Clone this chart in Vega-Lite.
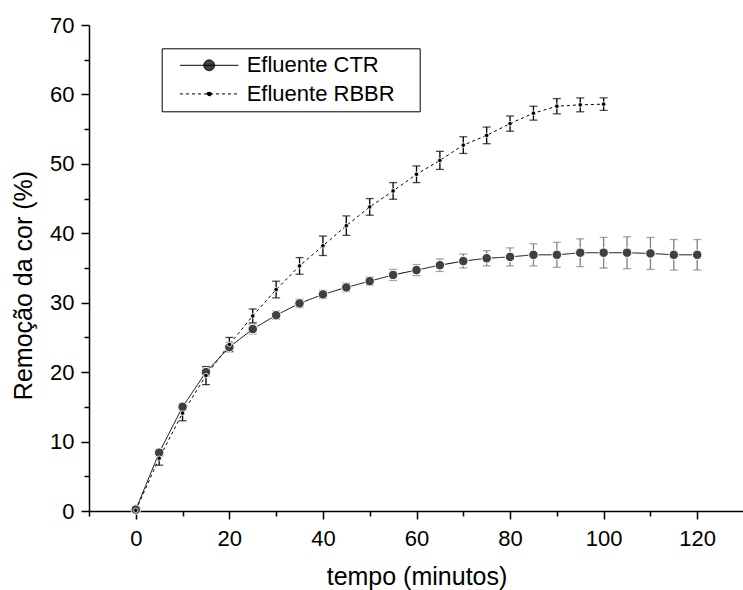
{
  "$schema": "https://vega.github.io/schema/vega-lite/v6.json",
  "width": 655,
  "height": 486,
  "autosize": "none",
  "padding": {"left": 89, "top": 25, "right": 0, "bottom": 79},
  "background": "white",
  "config": {
    "font": "Liberation Sans",
    "view": {"stroke": null},
    "axis": {
      "grid": false,
      "domainColor": "black",
      "domainWidth": 1.5,
      "tickColor": "black",
      "tickWidth": 1.5,
      "labelColor": "black",
      "labelFontSize": 22,
      "labelFont": "Liberation Sans",
      "titleColor": "black",
      "titleFontSize": 25,
      "titleFontWeight": "normal",
      "titleFont": "Liberation Sans",
      "labelOverlap": false,
      "labelFlush": false
    }
  },
  "data": {
    "values": [
      {"t": 0, "series": "Efluente CTR", "v": 0.2, "err": 0},
      {"t": 5, "series": "Efluente CTR", "v": 8.4, "err": 0.5},
      {"t": 10, "series": "Efluente CTR", "v": 15.0, "err": 0.5},
      {"t": 15, "series": "Efluente CTR", "v": 20.0, "err": 0.6},
      {"t": 20, "series": "Efluente CTR", "v": 23.6, "err": 0.7},
      {"t": 25, "series": "Efluente CTR", "v": 26.2, "err": 0.7},
      {"t": 30, "series": "Efluente CTR", "v": 28.2, "err": 0.6},
      {"t": 35, "series": "Efluente CTR", "v": 29.9, "err": 0.6},
      {"t": 40, "series": "Efluente CTR", "v": 31.2, "err": 0.6},
      {"t": 45, "series": "Efluente CTR", "v": 32.2, "err": 0.6},
      {"t": 50, "series": "Efluente CTR", "v": 33.1, "err": 0.6},
      {"t": 55, "series": "Efluente CTR", "v": 34.0, "err": 0.8},
      {"t": 60, "series": "Efluente CTR", "v": 34.7, "err": 0.8},
      {"t": 65, "series": "Efluente CTR", "v": 35.4, "err": 0.9},
      {"t": 70, "series": "Efluente CTR", "v": 36.0, "err": 1.0},
      {"t": 75, "series": "Efluente CTR", "v": 36.4, "err": 1.1},
      {"t": 80, "series": "Efluente CTR", "v": 36.6, "err": 1.3},
      {"t": 85, "series": "Efluente CTR", "v": 36.9, "err": 1.6},
      {"t": 90, "series": "Efluente CTR", "v": 36.9, "err": 1.8},
      {"t": 95, "series": "Efluente CTR", "v": 37.2, "err": 2.0},
      {"t": 100, "series": "Efluente CTR", "v": 37.2, "err": 2.2},
      {"t": 105, "series": "Efluente CTR", "v": 37.2, "err": 2.3},
      {"t": 110, "series": "Efluente CTR", "v": 37.1, "err": 2.3},
      {"t": 115, "series": "Efluente CTR", "v": 36.9, "err": 2.2},
      {"t": 120, "series": "Efluente CTR", "v": 36.9, "err": 2.2},
      {"t": 0, "series": "Efluente RBBR", "v": 0.1, "err": 0},
      {"t": 5, "series": "Efluente RBBR", "v": 7.6, "err": 1.0},
      {"t": 10, "series": "Efluente RBBR", "v": 14.1, "err": 1.1},
      {"t": 15, "series": "Efluente RBBR", "v": 19.5, "err": 1.3},
      {"t": 20, "series": "Efluente RBBR", "v": 24.0, "err": 1.0},
      {"t": 25, "series": "Efluente RBBR", "v": 28.1, "err": 1.0},
      {"t": 30, "series": "Efluente RBBR", "v": 31.9, "err": 1.2},
      {"t": 35, "series": "Efluente RBBR", "v": 35.3, "err": 1.2},
      {"t": 40, "series": "Efluente RBBR", "v": 38.2, "err": 1.4},
      {"t": 45, "series": "Efluente RBBR", "v": 41.1, "err": 1.4},
      {"t": 50, "series": "Efluente RBBR", "v": 43.8, "err": 1.2},
      {"t": 55, "series": "Efluente RBBR", "v": 46.1, "err": 1.2},
      {"t": 60, "series": "Efluente RBBR", "v": 48.5, "err": 1.2},
      {"t": 65, "series": "Efluente RBBR", "v": 50.5, "err": 1.3},
      {"t": 70, "series": "Efluente RBBR", "v": 52.7, "err": 1.2},
      {"t": 75, "series": "Efluente RBBR", "v": 54.1, "err": 1.2},
      {"t": 80, "series": "Efluente RBBR", "v": 55.8, "err": 1.1},
      {"t": 85, "series": "Efluente RBBR", "v": 57.3, "err": 1.0},
      {"t": 90, "series": "Efluente RBBR", "v": 58.3, "err": 1.1},
      {"t": 95, "series": "Efluente RBBR", "v": 58.5, "err": 1.0},
      {"t": 100, "series": "Efluente RBBR", "v": 58.6, "err": 0.9}
    ]
  },
  "encoding": {
    "x": {
      "field": "t",
      "type": "quantitative",
      "scale": {"domain": [-10, 130], "nice": false, "zero": false},
      "axis": {
        "title": "tempo (minutos)",
        "values": [-10, 0, 10, 20, 30, 40, 50, 60, 70, 80, 90, 100, 110, 120, 130],
        "labelExpr": "datum.value >= 0 && datum.value % 20 === 0 ? datum.label : ''",
        "tickSize": {"condition": {"test": "datum.value % 20 === 0", "value": 8}, "value": 5},
        "labelPadding": 9,
        "titleY": 73,
        "titleBaseline": "alphabetic"
      }
    },
    "y": {
      "field": "v",
      "type": "quantitative",
      "scale": {"domain": [0, 70], "nice": false},
      "axis": {
        "title": "Remoção da cor (%)",
        "values": [0, 5, 10, 15, 20, 25, 30, 35, 40, 45, 50, 55, 60, 65, 70],
        "labelExpr": "datum.value % 10 === 0 ? datum.label : ''",
        "tickSize": {"condition": {"test": "datum.value % 10 === 0", "value": 8}, "value": 5},
        "labelPadding": 7,
        "titleX": -58,
        "titleY": 260,
        "titleAngle": 270,
        "titleAlign": "center",
        "titleBaseline": "alphabetic"
      }
    }
  },
  "layer": [
    {
      "mark": {"type": "line", "color": "black", "strokeWidth": 1},
      "encoding": {
        "strokeDash": {
          "field": "series",
          "type": "nominal",
          "scale": {"domain": ["Efluente CTR", "Efluente RBBR"], "range": [[1, 0], [3, 3]]},
          "legend": {
            "title": null,
            "orient": "none",
            "legendX": 72.7,
            "legendY": 23.3,
            "strokeColor": "black",
            "fillColor": "white",
            "padding": 6,
            "symbolSize": 144,
            "symbolOffset": 30.5,
            "labelOffset": 26.5,
            "rowPadding": 6.6,
            "labelFontSize": 22,
            "labelFont": "Liberation Sans",
            "labelColor": "black",
            "labelLimit": 400,
            "labelExpr": "datum.label + '\u00a0\u00a0\u00a0\u200b'",
            "symbolStrokeColor": "black",
            "symbolStrokeWidth": 1,
            "encode": {
              "symbols": {
                "update": {
                  "shape": {"signal": "datum.value === 'Efluente CTR' ? 'M-4.87,0L4.87,0M0.9,0A0.9,0.9,0,1,1,-0.9,0A0.9,0.9,0,1,1,0.9,0Z' : 'M-4.87,0L4.87,0M0.37,0A0.37,0.37,0,1,1,-0.37,0A0.37,0.37,0,1,1,0.37,0Z'"},
                  "fill": {"signal": "datum.value === 'Efluente CTR' ? '#404040' : '#000000'"},
                  "stroke": {"value": "black"}
                }
              }
            }
          }
        }
      }
    },
    {
      "transform": [{"filter": "datum.t > 0 && datum.series === 'Efluente CTR'"}],
      "mark": {"type": "errorbar", "color": "#808080", "ticks": {"size": 8, "thickness": 1.3}, "rule": {"strokeWidth": 1.3}},
      "encoding": {"yError": {"field": "err"}}
    },
    {
      "transform": [{"filter": "datum.t > 0 && datum.series === 'Efluente RBBR'"}],
      "mark": {"type": "errorbar", "color": "black", "ticks": {"size": 8, "thickness": 1.3}, "rule": {"strokeWidth": 1.3}},
      "encoding": {"yError": {"field": "err"}}
    },
    {
      "transform": [{"filter": "datum.series === 'Efluente CTR'"}],
      "mark": {"type": "circle", "fill": "#404040", "opacity": 1, "size": 90, "stroke": "white", "strokeWidth": 1}
    },
    {
      "transform": [{"filter": "datum.series === 'Efluente RBBR'"}],
      "mark": {"type": "circle", "fill": "black", "opacity": 1, "size": 20, "stroke": "white", "strokeWidth": 0.8}
    }
  ]
}
